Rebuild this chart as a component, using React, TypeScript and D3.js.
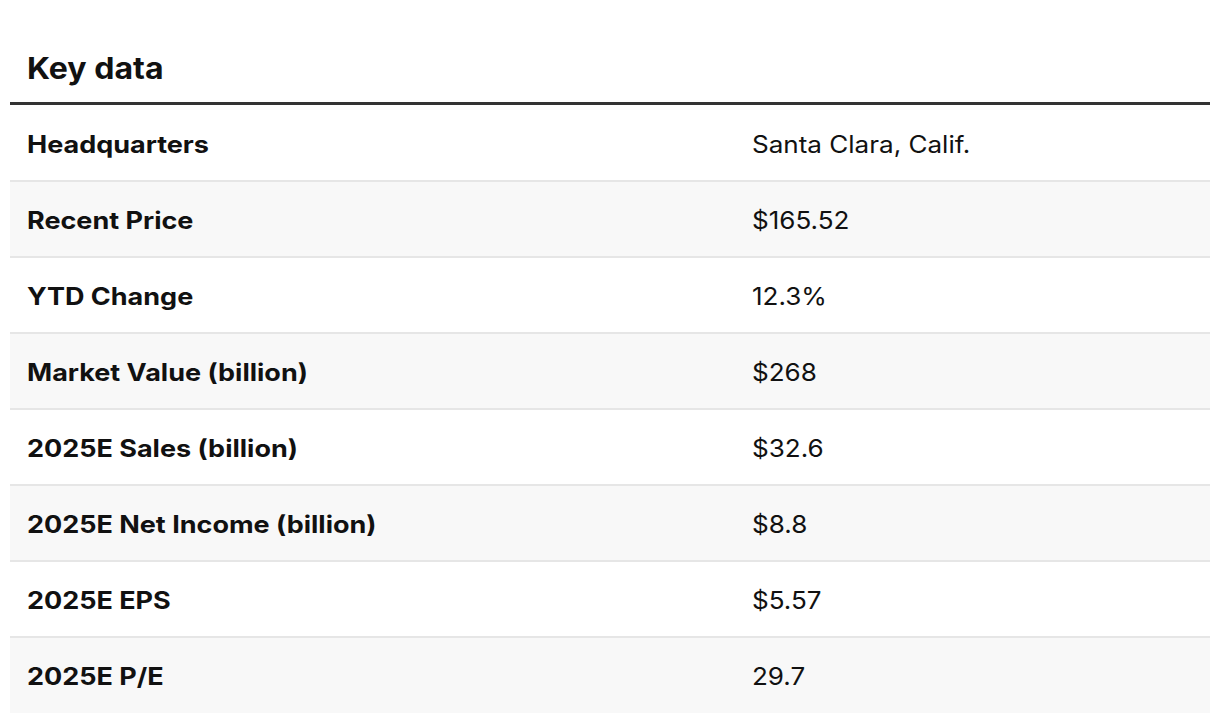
import React from "react";
import * as d3 from "d3";

const title = "Key data";
const labels = [
  "Headquarters",
  "Recent Price",
  "YTD Change",
  "Market Value (billion)",
  "2025E Sales (billion)",
  "2025E Net Income (billion)",
  "2025E EPS",
  "2025E P/E",
];
const values = [
  "Santa Clara, Calif.",
  "$165.52",
  "12.3%",
  "$268",
  "$32.6",
  "$8.8",
  "$5.57",
  "29.7",
];

export default function App() {
  const W = 1220;
  const H = 722;
  const left = 10;
  const right = 1210;
  const top = 105;
  const rowH = 76;
  const y = d3
    .scaleBand<number>()
    .domain(d3.range(labels.length))
    .range([top, top + rowH * labels.length])
    .paddingInner(0)
    .paddingOuter(0);
  const font = "Inter, Roboto, sans-serif";
  return (
    <svg
      width={W}
      height={H}
      style={{ position: "absolute", left: 0, top: 0, background: "#fff" }}
    >
      <text
        transform="translate(27,79) scale(1.07,1)"
        fontFamily={font}
        fontWeight={700}
        fontSize={30}
        fill="#111"
      >
        {title}
      </text>
      {labels.map((l, i) => {
        const y0 = y(i)!;
        return (
          <g key={i}>
            <rect
              x={left}
              y={y0}
              width={right - left}
              height={y.bandwidth()}
              fill={i % 2 === 1 ? "#f8f8f8" : "#ffffff"}
            />
            {i > 0 && (
              <rect x={left} y={y0 - 1} width={right - left} height={2} fill="#e6e6e6" />
            )}
            <text
              transform={`translate(27,${y0 + 48}) scale(1.125,1)`}
              fontFamily={font}
              fontWeight={700}
              fontSize={24}
              fill="#111"
            >
              {l}
            </text>
            <text
              transform={`translate(752,${y0 + 48}) scale(1.085,1)`}
              fontFamily={font}
              fontWeight={400}
              fontSize={24}
              fill="#111"
            >
              {values[i]}
            </text>
          </g>
        );
      })}
      <rect x={left} y={top - 3} width={right - left} height={3} fill="#333" />
    </svg>
  );
}
